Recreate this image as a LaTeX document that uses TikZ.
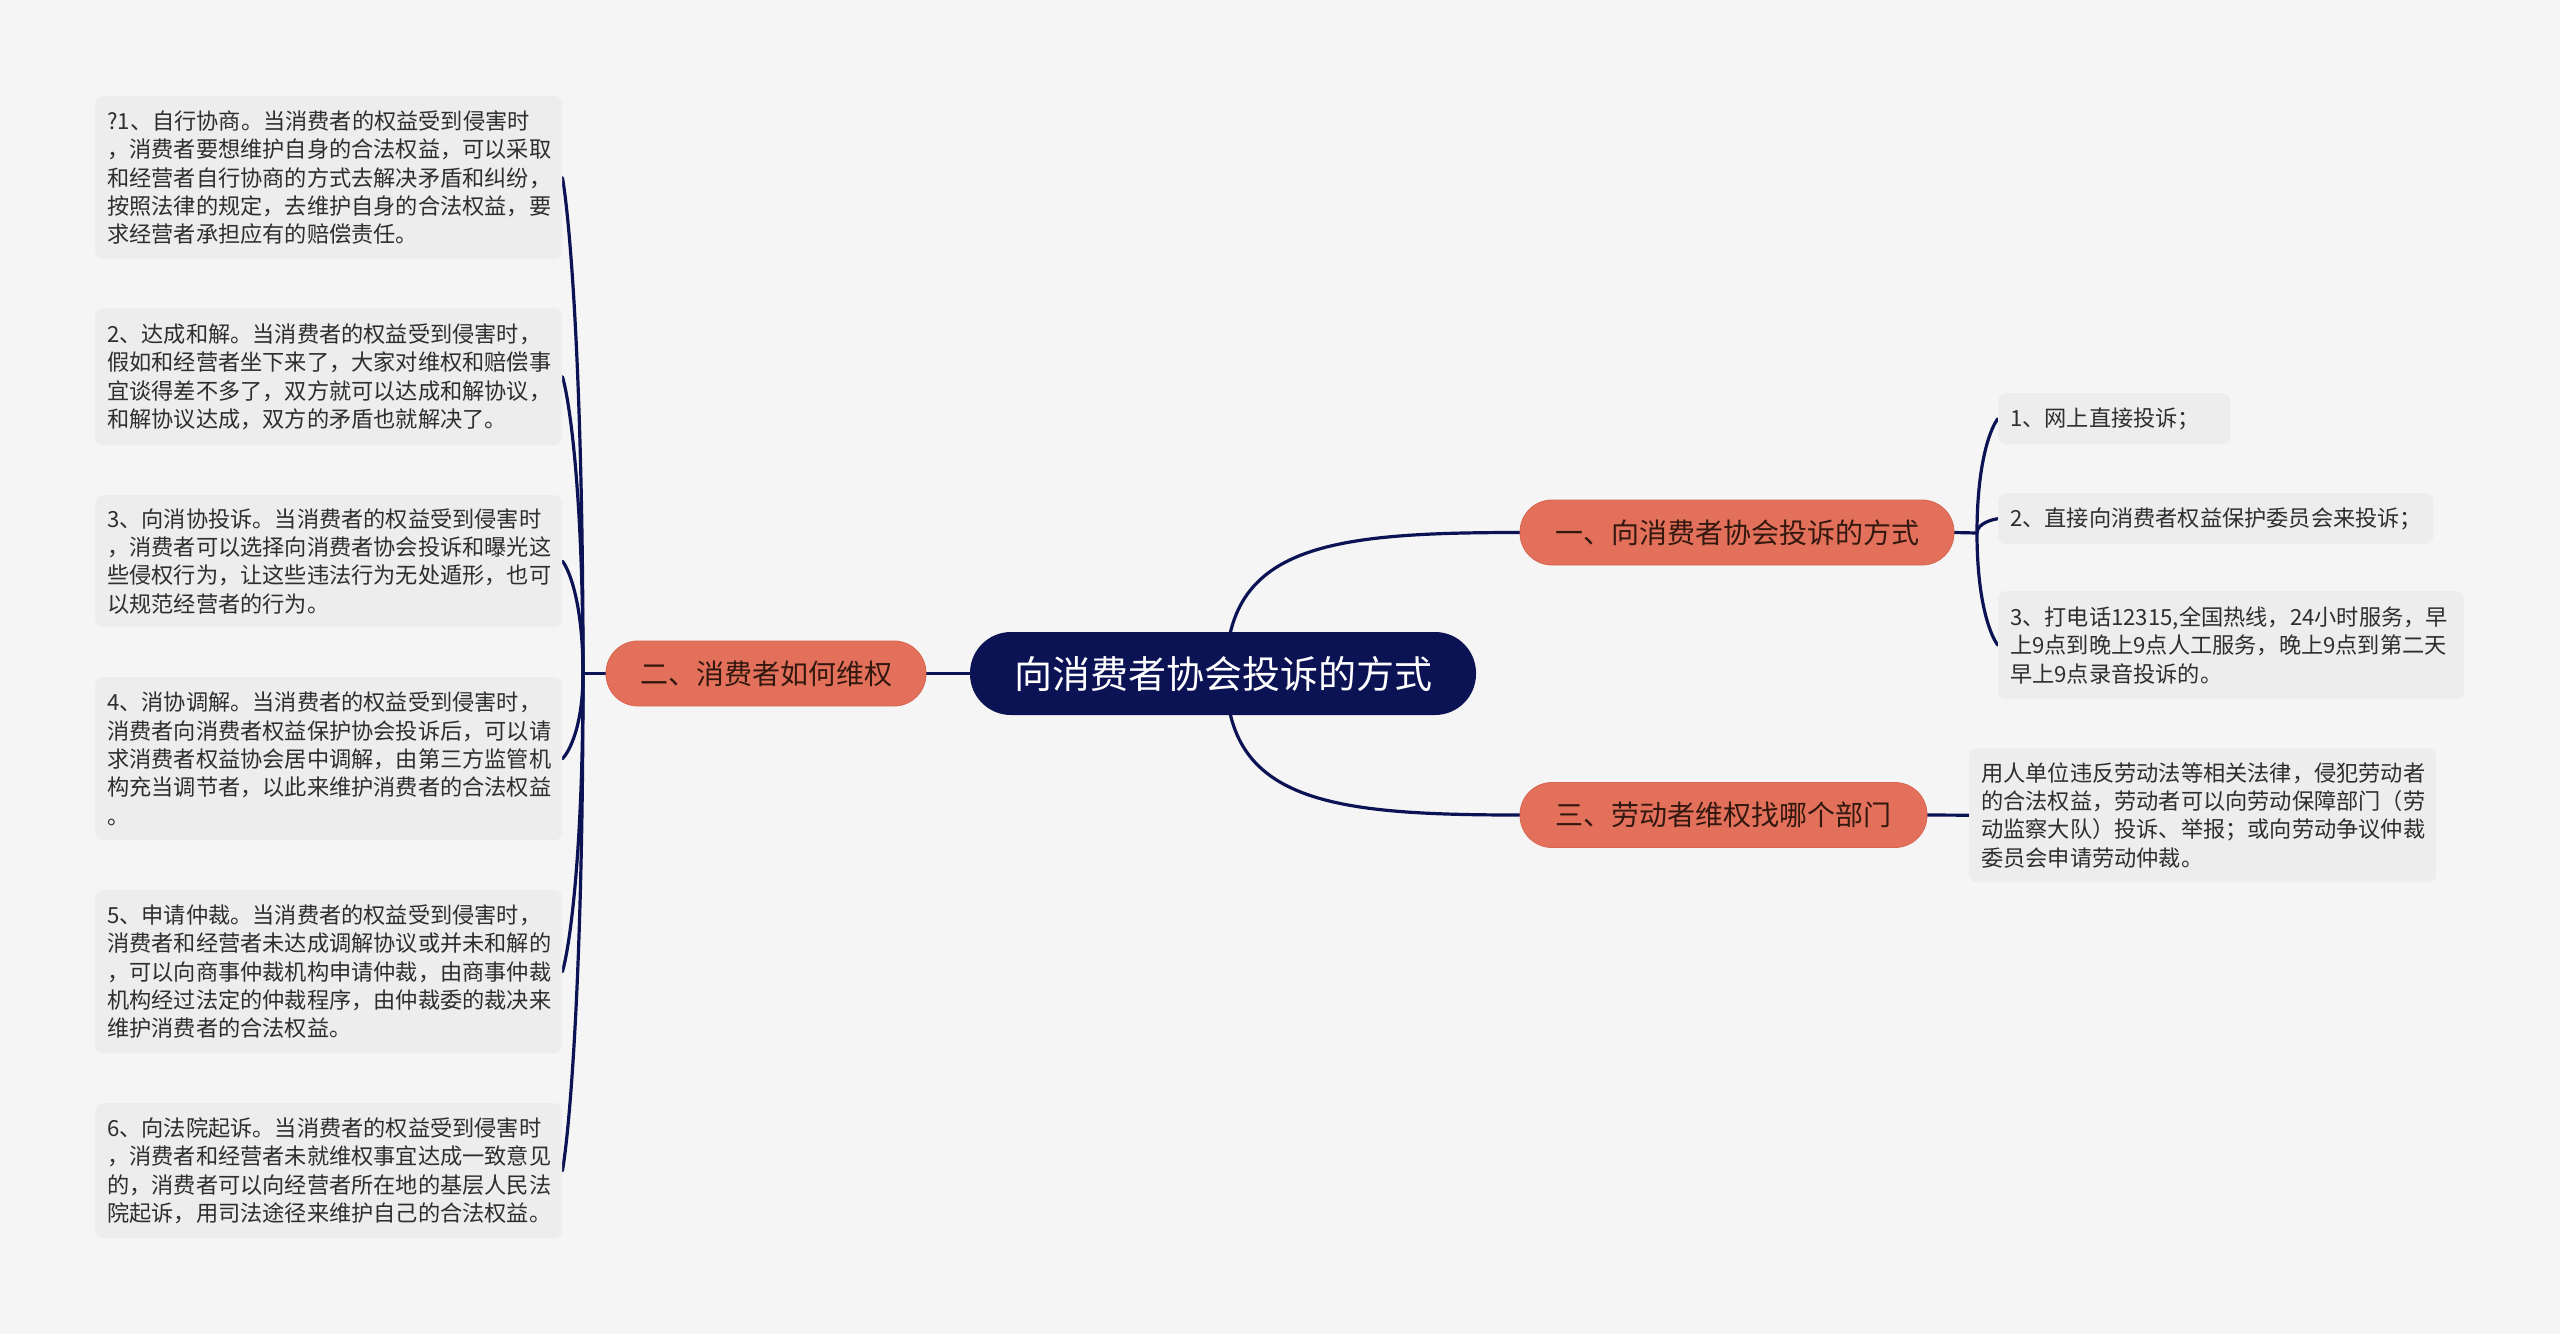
\documentclass[tikz,border=0pt]{standalone}
\usepackage{fontspec}
\setmainfont{Noto Sans CJK SC}
\usetikzlibrary{backgrounds}
\definecolor{pagebg}{HTML}{F5F5F5}
\definecolor{navy}{HTML}{0C1354}
\definecolor{salmon}{HTML}{E3705A}
\definecolor{salmonedge}{HTML}{D8654F}
\definecolor{leafbg}{HTML}{EDEDED}
\definecolor{leaftext}{HTML}{2E2E2E}
\definecolor{brtext}{HTML}{33180F}
\newcommand\leaffont{\fontsize{22.2}{28.3}\selectfont}
\newcommand\branchfont{\fontsize{28}{32}\selectfont}
\newcommand\rootfont{\fontsize{38}{42}\selectfont}
\begin{document}
\begin{tikzpicture}[x=1pt,y=-1pt,
  conn/.style={draw=navy, line width=3.2pt, line cap=round},
  rootnode/.style={fill=navy, text=white, rounded corners=41pt, minimum height=83pt, minimum width=506pt, inner sep=0pt, font=\rootfont},
  branchnode/.style={fill=salmon, draw=salmonedge, line width=0.8pt, text=brtext, rounded corners=32pt, minimum height=65pt, inner sep=0pt, font=\branchfont},
  leafnode/.style={fill=leafbg, rounded corners=8pt, anchor=north west, align=left, inner xsep=12pt, inner ysep=0pt, text=leaftext, font=\leaffont}
]
\useasboundingbox (0,0) rectangle (2560,1334);

% central and branch nodes
\node[rootnode] (root) at (1223,673.5) {向消费者协会投诉的方式};
\node[branchnode, minimum width=320pt] (n2) at (766,673.5) {二、消费者如何维权};
\node[branchnode, minimum width=434pt] (n1) at (1737,532.5) {一、向消费者协会投诉的方式};
\node[branchnode, minimum width=407pt] (n3) at (1723.5,815) {三、劳动者维权找哪个部门};

% left leaves
\node[leafnode, text width=443pt, minimum height=163pt] (b1) at (95,96) {?1、自行协商。当消费者的权益受到侵害时\\，消费者要想维护自身的合法权益，可以采取\\和经营者自行协商的方式去解决矛盾和纠纷，\\按照法律的规定，去维护自身的合法权益，要\\求经营者承担应有的赔偿责任。};
\node[leafnode, text width=443pt, minimum height=137pt] (b2) at (95,308) {2、达成和解。当消费者的权益受到侵害时，\\假如和经营者坐下来了，大家对维权和赔偿事\\宜谈得差不多了，双方就可以达成和解协议，\\和解协议达成，双方的矛盾也就解决了。};
\node[leafnode, text width=443pt, minimum height=132pt] (b3) at (95,495) {3、向消协投诉。当消费者的权益受到侵害时\\，消费者可以选择向消费者协会投诉和曝光这\\些侵权行为，让这些违法行为无处遁形，也可\\以规范经营者的行为。};
\node[leafnode, text width=443pt, minimum height=163pt] (b4) at (95,677) {4、消协调解。当消费者的权益受到侵害时，\\消费者向消费者权益保护协会投诉后，可以请\\求消费者权益协会居中调解，由第三方监管机\\构充当调节者，以此来维护消费者的合法权益\\。};
\node[leafnode, text width=443pt, minimum height=163pt] (b5) at (95,890) {5、申请仲裁。当消费者的权益受到侵害时，\\消费者和经营者未达成调解协议或并未和解的\\，可以向商事仲裁机构申请仲裁，由商事仲裁\\机构经过法定的仲裁程序，由仲裁委的裁决来\\维护消费者的合法权益。};
\node[leafnode, text width=443pt, minimum height=135pt] (b6) at (95,1103) {6、向法院起诉。当消费者的权益受到侵害时\\，消费者和经营者未就维权事宜达成一致意见\\的，消费者可以向经营者所在地的基层人民法\\院起诉，用司法途径来维护自己的合法权益。};

% right leaves
\node[leafnode, text width=208pt, minimum height=51pt] (r1) at (1998,393) {1、网上直接投诉；};
\node[leafnode, text width=411pt, minimum height=51pt] (r2) at (1998,493) {2、直接向消费者权益保护委员会来投诉；};
\node[leafnode, text width=442pt, minimum height=108pt] (r3) at (1998,591) {3、打电话12315,全国热线，24小时服务，早\\上9点到晚上9点人工服务，晚上9点到第二天\\早上9点录音投诉的。};
\node[leafnode, text width=443pt, minimum height=134pt] (r4) at (1969,748) {用人单位违反劳动法等相关法律，侵犯劳动者\\的合法权益，劳动者可以向劳动保障部门（劳\\动监察大队）投诉、举报；或向劳动争议仲裁\\委员会申请劳动仲裁。};

\coordinate (jl) at (583,673.5);
\coordinate (jr) at (1977,533);
\coordinate (rc) at (1226,673.5);

\begin{scope}[on background layer]
\fill[pagebg] (0,0) rectangle (2560,1334);
% root connections
\draw[conn] (root.west) -- (n2.east);
\draw[conn] (rc) .. controls (1226,545) and (1330,532.5) .. (n1.west);
\draw[conn] (rc) .. controls (1226,802) and (1330,815) .. (n3.west);
% left bracket
\draw[conn] (n2.west) -- (jl);
\draw[conn] (jl) .. controls (583,350.9) and (568,207.2) .. (b1.east);
\draw[conn] (jl) .. controls (583,480.3) and (568,394.3) .. (b2.east);
\draw[conn] (jl) .. controls (583,600.2) and (568,567.7) .. (b3.east);
\draw[conn] (jl) .. controls (583,728.6) and (568,753.4) .. (b4.east);
\draw[conn] (jl) .. controls (583,867.0) and (568,953.6) .. (b5.east);
\draw[conn] (jl) .. controls (583,996.1) and (568,1140.2) .. (b6.east);
% right bracket
\draw[conn] (n1.east) -- (jr);
\draw[conn] (jr) .. controls (1977,458.6) and (1992,425.4) .. (r1.west);
\draw[conn] (jr) .. controls (1977,523.6) and (1992,519.4) .. (r2.west);
\draw[conn] (jr) .. controls (1977,605.8) and (1992,638.3) .. (r3.west);
% third branch
\draw[conn] (n3.east) -- (r4.west);
\end{scope}
\end{tikzpicture}
\end{document}
